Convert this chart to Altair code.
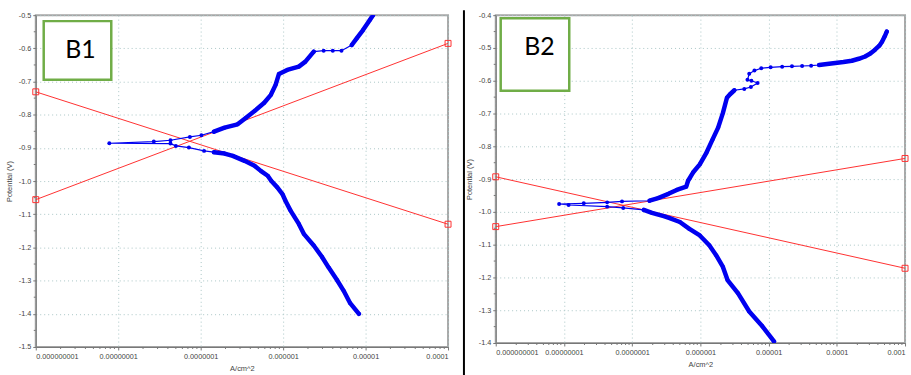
import altair as alt
import pandas as pd

# ---------------- B1 : potentiodynamic scan (A/cm^2, V) ----------------
b1_current = [8.3e-6, 6.5e-6, 5.4e-6, 4.5e-6, 3.55e-6, 2.95e-6, 2.35e-6, 1.78e-6,
              1.55e-6, 1.23e-6, 1.07e-6, 9.8e-7, 8.5e-7, 7.2e-7, 6.5e-7, 5.4e-7,
              4.5e-7, 3.4e-7, 2.45e-7, 1.95e-7, 1.45e-7, 1.1e-7, 7.2e-8, 5.0e-8,
              4.3e-8, 7.8e-9, 2.7e-8, 4.3e-8, 7.4e-8, 1.02e-7, 1.45e-7, 1.95e-7,
              2.8e-7, 3.55e-7, 4.5e-7, 5.9e-7, 7.1e-7, 8.1e-7, 8.9e-7, 1.12e-6,
              1.55e-6, 1.86e-6, 2.35e-6, 3.1e-6, 4.0e-6, 5.1e-6, 6.8e-6, 7.8e-6,
              9.3e-6, 1.12e-5, 1.23e-5]
b1_potential = [-1.400, -1.368, -1.330, -1.298, -1.260, -1.228, -1.194, -1.159,
                -1.129, -1.089, -1.060, -1.039, -1.019, -1.000, -0.984, -0.970,
                -0.954, -0.939, -0.924, -0.917, -0.913, -0.909, -0.899, -0.894,
                -0.887, -0.886, -0.881, -0.877, -0.867, -0.862, -0.851, -0.839,
                -0.829, -0.809, -0.789, -0.764, -0.740, -0.710, -0.677, -0.665,
                -0.655, -0.640, -0.610, -0.607, -0.607, -0.607, -0.590, -0.570,
                -0.545, -0.515, -0.500]
# stretches of the scan where readings are packed tightly (index ranges)
b1_dense = [(0, 20), (30, 42), (46, 50)]

# Tafel fit lines (end points)
b1_fit_current = [1e-9, 1e-4]
b1_anodic_fit = [-1.056, -0.585]
b1_cathodic_fit = [-0.731, -1.130]

# ---------------- B2 : potentiodynamic scan ----------------
b2_current = [1.2e-5, 8.1e-6, 5.2e-6, 3.55e-6, 2.5e-6, 2.14e-6, 1.7e-6, 1.35e-6,
              9.8e-7, 6.9e-7, 5.0e-7, 3.55e-7, 2.9e-7, 1.95e-7, 1.48e-7, 7.4e-8,
              4.3e-8, 1.17e-8, 8.5e-9, 1.95e-8, 4.3e-8, 7.1e-8, 1.8e-7, 2.4e-7,
              3.4e-7, 4.5e-7, 6.2e-7, 6.6e-7, 7.8e-7, 9.8e-7, 1.23e-6, 1.51e-6,
              1.82e-6, 2.14e-6, 2.45e-6, 2.7e-6, 3.15e-6, 4.4e-6, 5.5e-6, 6.9e-6,
              5.6e-6, 4.9e-6, 5.2e-6, 6.2e-6, 7.8e-6, 1.07e-5, 1.58e-5, 2.2e-5,
              3.1e-5, 4.2e-5, 5.5e-5, 7.2e-5, 9.5e-5, 1.25e-4, 1.66e-4, 2.1e-4,
              2.6e-4, 3.1e-4, 3.6e-4, 4.2e-4, 4.6e-4, 5.0e-4, 5.4e-4]
b2_potential = [-1.395, -1.349, -1.304, -1.248, -1.208, -1.168, -1.132, -1.102,
                -1.072, -1.052, -1.031, -1.019, -1.013, -1.003, -0.994, -0.988,
                -0.984, -0.979, -0.976, -0.974, -0.971, -0.968, -0.966, -0.958,
                -0.945, -0.933, -0.923, -0.905, -0.880, -0.855, -0.819, -0.779,
                -0.743, -0.698, -0.652, -0.642, -0.629, -0.625, -0.619, -0.607,
                -0.600, -0.597, -0.579, -0.569, -0.562, -0.559, -0.557, -0.556,
                -0.555, -0.554, -0.552, -0.549, -0.546, -0.543, -0.539, -0.533,
                -0.526, -0.517, -0.506, -0.493, -0.481, -0.466, -0.450]
b2_dense = [(0, 14), (22, 36), (50, 62)]

b2_fit_current = [1e-9, 1e-3]
b2_anodic_fit = [-1.045, -0.837]
b2_cathodic_fit = [-0.893, -1.172]

# ---------------- axis tick values ----------------
decades_b1 = [1e-9, 1e-8, 1e-7, 1e-6, 1e-5, 1e-4]
decades_b2 = [1e-9, 1e-8, 1e-7, 1e-6, 1e-5, 1e-4, 1e-3]
volts_b1 = [-1.5, -1.4, -1.3, -1.2, -1.1, -1.0, -0.9, -0.8, -0.7, -0.6, -0.5]
volts_b2 = [-1.4, -1.3, -1.2, -1.1, -1.0, -0.9, -0.8, -0.7, -0.6, -0.5, -0.4]
minor_steps = [2, 3, 4, 5, 6, 7, 8, 9]

BLUE = "#0000f0"
RED = "#ff3030"
GRID = "#a9c6c6"
LABEL_EXPR_Y = "(datum.value < 0 ? '-' : '') + format(abs(datum.value), '.1f')"
LABEL_EXPR_X = "format(datum.value, '.9~f')"


def panel(name, current, potential, dense, fit_x, fit_a, fit_c,
          decades, volts, width, height, box, separator=False):
    xs = alt.Scale(type="log", domain=[decades[0], decades[-1]], nice=False)
    ys = alt.Scale(domain=[volts[0], volts[-1]], nice=False, zero=False)

    x_axis = alt.Axis(values=decades, labelExpr=LABEL_EXPR_X, title="A/cm^2",
                      grid=True, gridColor=GRID, gridDash=[1, 3], gridWidth=1,
                      tickSize=3, labelPadding=3, titlePadding=4)
    y_axis = alt.Axis(values=volts, labelExpr=LABEL_EXPR_Y, title="Potential (V)",
                      grid=True, gridColor=GRID, gridDash=[1, 3], gridWidth=1,
                      tickSize=3, labelPadding=2, titlePadding=5)
    X = alt.X("current:Q", scale=xs, axis=x_axis)
    Y = alt.Y("potential:Q", scale=ys, axis=y_axis)

    scan = pd.DataFrame({"i": list(range(len(current))),
                         "current": current, "potential": potential})
    thick_rows = []
    for k, (a, b) in enumerate(dense):
        for j in range(a, b + 1):
            thick_rows.append({"seg": k, "i": j, "current": current[j],
                               "potential": potential[j]})
    thick = pd.DataFrame(thick_rows)

    fits = pd.DataFrame({
        "fit": ["anodic"] * 2 + ["cathodic"] * 2,
        "current": fit_x + fit_x,
        "potential": fit_a + fit_c,
    })

    minor_x = pd.DataFrame({"current": [m * d for d in decades[:-1] for m in minor_steps]})
    minor_y = pd.DataFrame({"potential": [round(v + 0.05, 2) for v in volts[:-1]]})

    xminor = alt.Chart(minor_x).mark_rule(color="#777", strokeWidth=1).encode(
        x=X, y=alt.value(height), y2=alt.value(height + 2))
    yminor = alt.Chart(minor_y).mark_rule(color="#777", strokeWidth=1).encode(
        y=Y, x=alt.value(0), x2=alt.value(-2))

    fit_lines = alt.Chart(fits).mark_line(color=RED, strokeWidth=1).encode(
        x=X, y=Y, detail="fit:N")
    fit_ends = alt.Chart(fits).mark_point(shape="square", filled=False, color=RED,
                                          size=36, strokeWidth=1, opacity=1).encode(
        x=X, y=Y)

    scan_line = alt.Chart(scan).mark_line(color=BLUE, strokeWidth=1.2, clip=True).encode(
        x=X, y=Y, order="i:Q")
    scan_thick = alt.Chart(thick).mark_line(color=BLUE, strokeWidth=4.5, clip=True,
                                            strokeCap="round", strokeJoin="round").encode(
        x=X, y=Y, detail="seg:N", order="i:Q")
    scan_pts = alt.Chart(scan).mark_circle(color=BLUE, size=16, opacity=1, clip=True).encode(
        x=X, y=Y)

    bx0, bx1, by0, by1, tx, ty = box
    tag = pd.DataFrame({"name": [name]})
    label_box = alt.Chart(tag).mark_rect(
        fill="white", stroke="#70ad47", strokeWidth=2.5).encode(
        x=alt.value(bx0), x2=alt.value(bx1), y=alt.value(by0), y2=alt.value(by1))
    label_text = alt.Chart(tag).mark_text(
        font="Lato", fontSize=25, color="black", align="center",
        baseline="middle").encode(text="name:N", x=alt.value(tx), y=alt.value(ty))

    layers = [xminor, yminor, fit_lines, fit_ends,
              scan_line, scan_thick, scan_pts, label_box, label_text]
    if separator:
        layers.append(alt.Chart(tag).mark_rule(color="black", strokeWidth=2).encode(
            x=alt.value(-32), y=alt.value(-5), y2=alt.value(height + 40)))
    return alt.layer(*layers).properties(width=width, height=height)


left = panel("B1", b1_current, b1_potential, b1_dense, b1_fit_current,
             b1_anodic_fit, b1_cathodic_fit, decades_b1, volts_b1, 415, 334,
             (8, 76, 6, 65, 45, 35))
right = panel("B2", b2_current, b2_potential, b2_dense, b2_fit_current,
              b2_anodic_fit, b2_cathodic_fit, decades_b2, volts_b2, 412, 330,
              (5, 74, 3, 76, 44, 32), separator=True)

chart = alt.hconcat(left, right, spacing=48, bounds="flush").configure_view(
    stroke="#a6a6a6", strokeWidth=2
).configure_axis(
    labelFont="Liberation Sans", labelFontSize=7.3, labelColor="#444",
    titleFont="Liberation Sans", titleFontSize=7.5, titleFontWeight="normal",
    titleColor="#444", domainColor="#777", tickColor="#777",
).properties(
    padding={"left": 4, "top": 7, "right": 0, "bottom": 0},
    background="white",
)

chart.save("out.html", embed_options={"renderer": "svg", "actions": False})
